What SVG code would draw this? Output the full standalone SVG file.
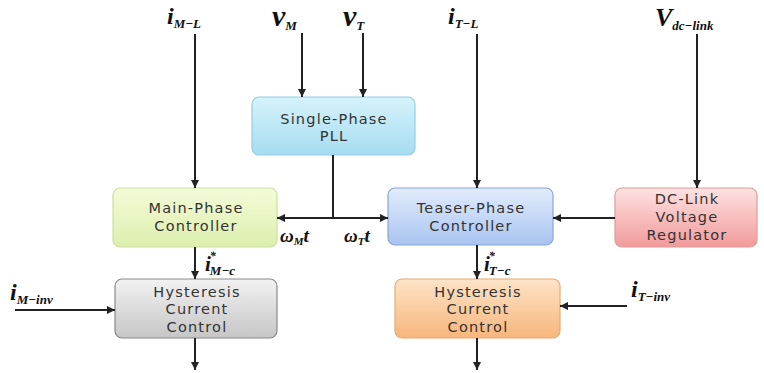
<svg xmlns="http://www.w3.org/2000/svg" width="764" height="373" viewBox="0 0 764 373">
<defs>
<linearGradient id="gPll" x1="0" y1="0" x2="0" y2="1"><stop offset="0" stop-color="#d6f3fc"/><stop offset="1" stop-color="#a6dcf0"/></linearGradient>
<linearGradient id="gMain" x1="0" y1="0" x2="0" y2="1"><stop offset="0" stop-color="#f4fbd8"/><stop offset="1" stop-color="#dcefae"/></linearGradient>
<linearGradient id="gTeaser" x1="0" y1="0" x2="0" y2="1"><stop offset="0" stop-color="#e2ecfb"/><stop offset="1" stop-color="#a9c4f0"/></linearGradient>
<linearGradient id="gDc" x1="0" y1="0" x2="0" y2="1"><stop offset="0" stop-color="#fde2e2"/><stop offset="1" stop-color="#f29a9a"/></linearGradient>
<linearGradient id="gHl" x1="0" y1="0" x2="0" y2="1"><stop offset="0" stop-color="#f2f2f2"/><stop offset="1" stop-color="#c6c6c6"/></linearGradient>
<linearGradient id="gHr" x1="0" y1="0" x2="0" y2="1"><stop offset="0" stop-color="#fde4c8"/><stop offset="1" stop-color="#f7b67c"/></linearGradient>
<marker id="arr" viewBox="0 0 10 10" refX="10" refY="5" markerWidth="8" markerHeight="8" markerUnits="userSpaceOnUse" orient="auto"><path d="M0,0 L10,5 L0,10 Z" fill="#222"/></marker>
</defs>
<style>
.box{stroke-width:1.2}
.bt{font-family:"DejaVu Sans","Noto Sans",sans-serif;font-size:14.5px;letter-spacing:1.2px;fill:#333;text-anchor:middle}
.ln{stroke:#222;stroke-width:2;fill:none}
.lb{font-family:"Liberation Serif","Times New Roman",serif;font-style:italic;font-weight:bold;fill:#111}
.sub{font-size:13px}
</style>
<rect width="764" height="373" fill="#fff"/>
<g id="pll"><rect class="box" x="252" y="97" width="163" height="58" rx="7" fill="url(#gPll)" stroke="#94cde3"/><text class="bt" x="334" y="124">Single-Phase</text><text class="bt" x="334" y="141">PLL</text></g>
<g id="main"><rect class="box" x="113" y="188" width="164" height="59" rx="7" fill="url(#gMain)" stroke="#cbdfa0"/><text class="bt" x="196" y="213">Main-Phase</text><text class="bt" x="196" y="231">Controller</text></g>
<g id="teaser"><rect class="box" x="388" y="188" width="165" height="57" rx="7" fill="url(#gTeaser)" stroke="#86a6da"/><text class="bt" x="471" y="213">Teaser-Phase</text><text class="bt" x="471" y="231">Controller</text></g>
<g id="dclink"><rect class="box" x="615" y="188" width="142" height="59" rx="7" fill="url(#gDc)" stroke="#e49a9a"/><text class="bt" x="687" y="204">DC-Link</text><text class="bt" x="687" y="222">Voltage</text><text class="bt" x="687" y="240">Regulator</text></g>
<g id="hystL"><rect class="box" x="115" y="279" width="162" height="59" rx="7" fill="url(#gHl)" stroke="#8a8a8a"/><text class="bt" x="197" y="297">Hysteresis</text><text class="bt" x="197" y="314">Current</text><text class="bt" x="197" y="332">Control</text></g>
<g id="hystR"><rect class="box" x="395" y="279" width="165" height="59" rx="7" fill="url(#gHr)" stroke="#eaa96e"/><text class="bt" x="478" y="297">Hysteresis</text><text class="bt" x="478" y="314">Current</text><text class="bt" x="478" y="332">Control</text></g>
<g id="connectors">
<line class="ln" x1="195" y1="34" x2="195" y2="188" marker-end="url(#arr)"/>
<line class="ln" x1="302" y1="33" x2="302" y2="97" marker-end="url(#arr)"/>
<line class="ln" x1="363" y1="33" x2="363" y2="97" marker-end="url(#arr)"/>
<line class="ln" x1="477" y1="34" x2="477" y2="188" marker-end="url(#arr)"/>
<line class="ln" x1="697" y1="34" x2="697" y2="188" marker-end="url(#arr)"/>
<line class="ln" x1="333" y1="155" x2="333" y2="218"/>
<line class="ln" x1="333" y1="218" x2="277" y2="218" marker-end="url(#arr)"/>
<line class="ln" x1="333" y1="218" x2="388" y2="218" marker-end="url(#arr)"/>
<line class="ln" x1="615" y1="218" x2="553" y2="218" marker-end="url(#arr)"/>
<line class="ln" x1="195" y1="247" x2="195" y2="279" marker-end="url(#arr)"/>
<line class="ln" x1="477" y1="245" x2="477" y2="279" marker-end="url(#arr)"/>
<line class="ln" x1="195" y1="338" x2="195" y2="370" marker-end="url(#arr)"/>
<line class="ln" x1="477" y1="338" x2="477" y2="370" marker-end="url(#arr)"/>
<line class="ln" x1="15" y1="310" x2="115" y2="310" marker-end="url(#arr)"/>
<line class="ln" x1="627" y1="306" x2="560" y2="306" marker-end="url(#arr)"/>
</g>
<g id="labels">
<text class="lb" x="167" y="24" font-size="24">i<tspan class="sub" dy="4">M−L</tspan></text>
<text class="lb" x="272" y="26" font-size="30">v<tspan class="sub" font-size="17" dy="4">M</tspan></text>
<text class="lb" x="343" y="26" font-size="30">v<tspan class="sub" font-size="17" dy="4">T</tspan></text>
<text class="lb" x="448" y="24" font-size="24">i<tspan class="sub" dy="4">T−L</tspan></text>
<text class="lb" x="655" y="26" font-size="26">V<tspan class="sub" dy="4">dc−link</tspan></text>
<text class="lb" x="280" y="242" font-size="19">ω<tspan font-size="11" dy="3">M</tspan><tspan dy="-3">t</tspan></text>
<text class="lb" x="344" y="242" font-size="19">ω<tspan font-size="11" dy="3">T</tspan><tspan dy="-3">t</tspan></text>
<text class="lb" x="205" y="271" font-size="21">i<tspan font-size="12" dx="-1" dy="-11">*</tspan><tspan class="sub" dx="-6" dy="15">M−c</tspan></text>
<text class="lb" x="484" y="271" font-size="21">i<tspan font-size="12" dx="-1" dy="-11">*</tspan><tspan class="sub" dx="-6" dy="15">T−c</tspan></text>
<text class="lb" x="10" y="300" font-size="24">i<tspan class="sub" dy="4">M−inv</tspan></text>
<text class="lb" x="631" y="297" font-size="24">i<tspan class="sub" dy="4">T−inv</tspan></text>
</g>
</svg>
